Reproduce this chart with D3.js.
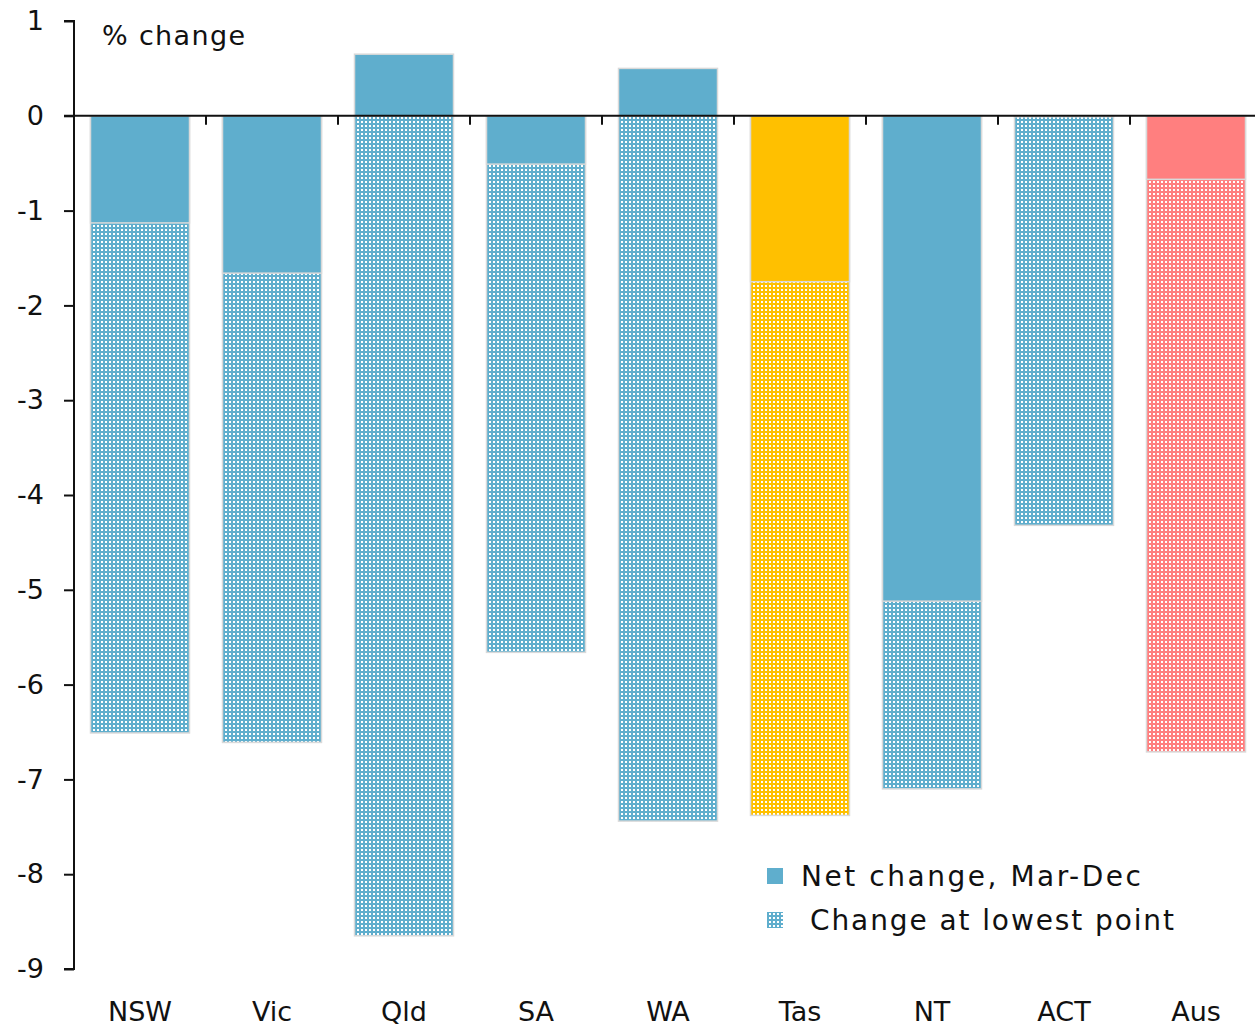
<!DOCTYPE html>
<html>
<head>
<meta charset="utf-8">
<script src="https://cdn.jsdelivr.net/npm/d3@7"></script>
<style>
  body { margin: 0; background: #fff; }
  svg text { font-family: "DejaVu Sans", sans-serif; fill: #111; }
</style>
</head>
<body>
<svg id="chart"></svg>
<script>
const states = ['NSW', 'Vic', 'Qld', 'SA', 'WA', 'Tas', 'NT', 'ACT', 'Aus'];
const netChange = [-1.13, -1.66, 0.65, -0.51, 0.50, -1.75, -5.12, -0.01, -0.67];
const lowestPoint = [-6.51, -6.61, -8.65, -5.66, -7.44, -7.38, -7.10, -4.32, -6.71];
const barColors = ['#5FAECD', '#5FAECD', '#5FAECD', '#5FAECD', '#5FAECD', '#FFC000', '#5FAECD', '#5FAECD', '#FF7F7F'];
const yTicks = [1, 0, -1, -2, -3, -4, -5, -6, -7, -8, -9];

const width = 1255, height = 1027;
const svg = d3.select('#chart').attr('width', width).attr('height', height);

const x = d3.scaleBand().domain(states).range([74, 1262]).paddingInner(0.25).paddingOuter(0.125);
const y = d3.scaleLinear().domain([-9, 1]).range([969, 21]);

// dotted patterns, one per colour
const defs = svg.append('defs');
const patId = c => 'dots' + c.replace('#', '');
Array.from(new Set(barColors)).forEach(c => {
  const p = defs.append('pattern').attr('id', patId(c))
    .attr('patternUnits', 'userSpaceOnUse').attr('width', 4).attr('height', 4);
  p.append('rect').attr('width', 4).attr('height', 4).attr('fill', c);
  p.append('rect').attr('x', 1).attr('y', 1).attr('width', 2).attr('height', 2).attr('fill', '#fff');
});

const data = states.map((s, i) => ({ s, net: netChange[i], low: lowestPoint[i], c: barColors[i] }));

// lowest point bars (dotted) from 0 down to lowest
svg.append('g').selectAll('rect').data(data).enter().append('rect')
  .attr('x', d => x(d.s))
  .attr('width', x.bandwidth())
  .attr('y', y(0))
  .attr('height', d => y(d.low) - y(0))
  .attr('fill', d => `url(#${patId(d.c)})`)
  .attr('stroke', '#d9d9d9').attr('stroke-width', 1.5);

// net change bars (solid)
svg.append('g').selectAll('rect').data(data).enter().append('rect')
  .attr('x', d => x(d.s))
  .attr('width', x.bandwidth())
  .attr('y', d => y(Math.max(0, d.net)))
  .attr('height', d => Math.abs(y(d.net) - y(0)))
  .attr('fill', d => d.c)
  .attr('stroke', '#d9d9d9').attr('stroke-width', 1.5);

// y axis
const yAxis = svg.append('g').attr('transform', 'translate(74,0)')
  .call(d3.axisLeft(y).tickValues(yTicks).tickSize(10).tickPadding(20).tickFormat(d => String(d)));
yAxis.select('.domain').attr('stroke', '#111').attr('stroke-width', 2).attr('d', `M-10,${y(1)}H0V${y(-9)}H-10`);
yAxis.selectAll('.tick line').attr('stroke', '#111').attr('stroke-width', 2);
yAxis.selectAll('.tick text').style('font-size', '27px').attr('fill', '#111');

// zero line with category ticks
const xAxis = svg.append('g').attr('transform', `translate(0,${y(0)})`)
  .call(d3.axisBottom(x).tickSize(0).tickFormat(''));
xAxis.select('.domain').attr('stroke', '#111').attr('stroke-width', 2).attr('d', `M64,0H${width}`);
xAxis.selectAll('.tick').remove();
const boundaries = states.slice(1).map(s => x(s) - x.step() * x.paddingInner() / 2);
xAxis.selectAll('line.sep').data(boundaries).enter().append('line')
  .attr('class', 'sep')
  .attr('x1', d => d).attr('x2', d => d).attr('y1', 0).attr('y2', 9)
  .attr('stroke', '#111').attr('stroke-width', 2);

// category labels
svg.append('g').selectAll('text').data(states).enter().append('text')
  .attr('x', d => x(d) + x.bandwidth() / 2)
  .attr('y', 1021)
  .attr('text-anchor', 'middle')
  .style('font-size', '27px')
  .text(d => d);

svg.append('text').attr('x', 102).attr('y', 45).style('font-size', '27px')
  .attr('textLength', 143).attr('lengthAdjust', 'spacing').text('% change');

// legend
const lg = svg.append('g');
lg.append('rect').attr('x', 767).attr('y', 868).attr('width', 16).attr('height', 16).attr('fill', '#5FAECD');
lg.append('text').attr('x', 801).attr('y', 886).style('font-size', '28px')
  .attr('textLength', 340).attr('lengthAdjust', 'spacing').text('Net change, Mar-Dec');
lg.append('rect').attr('x', 767).attr('y', 912).attr('width', 16).attr('height', 16).attr('fill', `url(#${patId('#5FAECD')})`);
lg.append('text').attr('x', 810).attr('y', 930).style('font-size', '28px')
  .attr('textLength', 364).attr('lengthAdjust', 'spacing').text('Change at lowest point');
</script>
</body>
</html>
